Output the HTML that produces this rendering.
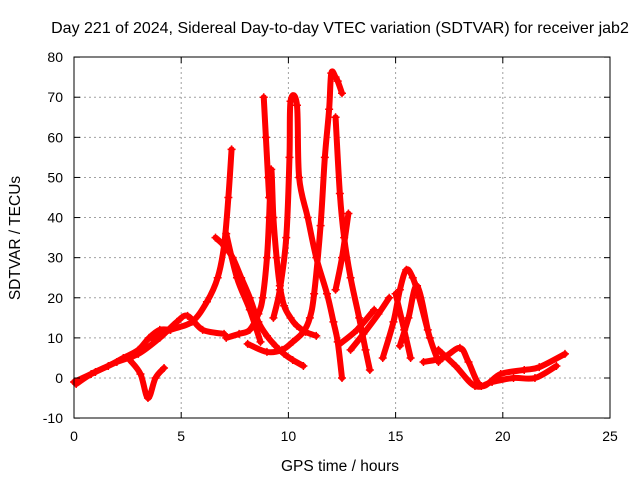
<!DOCTYPE html>
<html><head><meta charset="utf-8"><style>
body{margin:0;background:#fff}
svg{display:block;font-family:"Liberation Sans",sans-serif}
</style></head><body>
<svg id="chart" width="640" height="480">
<text x="340" y="33" text-anchor="middle" font-size="16">Day 221 of 2024, Sidereal Day-to-day VTEC variation (SDTVAR) for receiver jab2</text>
<text x="340" y="471" text-anchor="middle" font-size="15.5">GPS time / hours</text>
<text transform="translate(20,238) rotate(-90)" text-anchor="middle" font-size="15.5">SDTVAR / TECUs</text>
<g id="grid"></g><g id="marks"></g>
<rect x="74" y="57" width="536" height="361" fill="none" stroke="#000" stroke-width="1"/>
<g id="ticks"></g>
</svg>
<script>
const xTicks=[0,5,10,15,20,25];
const yTicks=[-10,0,10,20,30,40,50,60,70,80];
const arcA=[[0,-1],[1,1.5],[2,4],[3,6],[4,10],[4.8,14],[5.3,15.5],[6,12],[7,11]];
const arcB=[[0.1,-1.5],[0.8,1],[1.6,3],[2.3,5],[3,7],[3.5,10],[4,12],[4.5,12]];
const arcC=[[3.6,10],[4.5,12],[5.5,14],[6.2,19],[6.7,25],[7.0,33],[7.2,45],[7.35,57]];
const arcD=[[6.6,35],[7,33],[7.4,30],[7.8,25],[8.2,20],[8.6,14],[9,10.5],[9.4,8],[9.8,6],[10.2,4.5],[10.7,3]];
const arcE=[[7.1,36],[7.6,25],[8.2,17],[8.7,9]];
const arcF=[[7.1,10],[7.7,11],[8.2,12],[8.6,16],[8.8,20],[9.0,30],[9.1,40],[9.2,52],[9.3,40],[9.45,30],[9.6,23],[9.8,18],[10.1,15],[10.4,13],[10.8,11.5],[11.3,10.5]];
const arcG=[[8.85,70],[8.95,60],[9.05,50],[9.1,45]];
const arcH=[[9.3,15],[9.6,22],[9.9,35],[10.05,55],[10.1,69],[10.4,68],[10.5,50],[10.9,40],[11.3,30],[11.8,21],[12.1,14],[12.3,9],[12.5,0]];
const arcI=[[8.1,8.5],[9,6.5],[9.7,7],[10.2,9],[10.7,11.5],[11.0,15],[11.2,21],[11.5,38],[11.7,55],[11.9,67],[12.0,76],[12.2,75],[12.3,74],[12.5,71]];
const arcJ=[[12.2,65],[12.4,46],[12.6,35],[12.9,25],[13.3,15],[13.6,7],[13.8,2]];
const arcK=[[12.2,22],[12.5,30],[12.8,41]];
const arcL=[[12.9,7],[13.5,11],[14.2,16],[14.7,20]];
const arcM=[[12.4,8.5],[13.2,12],[14,17]];
const arcN=[[14.4,5],[14.9,14],[15.2,22],[15.5,27],[15.8,25],[16.1,20],[16.6,10],[17,4]];
const arcO=[[15,21],[15.4,12],[15.7,5]];
const arcP=[[15.2,8],[15.6,15],[16,23],[16.5,12]];
const arcQ=[[16.3,4],[17.2,5],[18,7.5],[18.4,4],[19,-2],[19.9,1],[21,2],[21.7,2.7],[22.9,6]];
const arcR=[[17,7],[17.8,3],[18.7,-2],[19.5,-1],[20.5,0],[21.5,0],[22.5,3]];
const arcS=[[2.6,4.5],[3.1,1],[3.45,-5],[3.8,0],[4.2,2.5]];
const series=[arcA,arcB,arcC,arcD,arcE,arcF,arcG,arcH,arcI,arcJ,arcK,arcL,arcM,arcN,arcO,arcP,arcQ,arcR,arcS];
const X=t=>74+t*536/25, Y=v=>378-v*361/90;
const ns="http://www.w3.org/2000/svg";
const grid=document.getElementById('grid'),ticks=document.getElementById('ticks'),marks=document.getElementById('marks');
function mk(tag,attrs,parent){const e=document.createElementNS(ns,tag);for(const k in attrs)e.setAttribute(k,attrs[k]);parent.appendChild(e);return e;}
xTicks.forEach(t=>{const x=X(t);
 if(t>0&&t<25){const g=mk('line',{x1:x,x2:x,y1:57,y2:418,stroke:'#a0a0a0','stroke-dasharray':'2,3'},grid);
 }
 mk('line',{x1:x,x2:x,y1:418,y2:412,stroke:'#000'},ticks);mk('line',{x1:x,x2:x,y1:57,y2:63,stroke:'#000'},ticks);
 const l=mk('text',{x:x,y:441,'text-anchor':'middle','font-size':14},ticks);l.textContent=t;
 });
yTicks.forEach(v=>{const y=Y(v);
 if(v>-10&&v<80){const g=mk('line',{x1:74,x2:610,y1:y,y2:y,stroke:'#a0a0a0','stroke-dasharray':'2,3'},grid);
 }
 mk('line',{x1:74,x2:80,y1:y,y2:y,stroke:'#000'},ticks);mk('line',{x1:610,x2:604,y1:y,y2:y,stroke:'#000'},ticks);
 const l=mk('text',{x:63,y:y+5,'text-anchor':'end','font-size':14},ticks);l.textContent=v;
 });
function smooth(pts){
 let d=`M${pts[0][0]},${pts[0][1]}`;
 for(let i=0;i<pts.length-1;i++){
  const p0=pts[Math.max(0,i-1)],p1=pts[i],p2=pts[i+1],p3=pts[Math.min(pts.length-1,i+2)];
  const c1x=p1[0]+(p2[0]-p0[0])/6,c1y=p1[1]+(p2[1]-p0[1])/6;
  const c2x=p2[0]-(p3[0]-p1[0])/6,c2y=p2[1]-(p3[1]-p1[1])/6;
  d+=`C${c1x},${c1y} ${c2x},${c2y} ${p2[0]},${p2[1]}`;
 }
 return d;
}
series.forEach(s=>{
 const pts=s.map(d=>[X(d[0]),Y(d[1])]);
 const p=mk('path',{d:smooth(pts),fill:'none',stroke:'#ff0000','stroke-width':6,'stroke-linejoin':'round','stroke-linecap':'round'},marks);
 
 
 pts.forEach(([x,y])=>{
  const m=mk('path',{d:`M${x-4},${y}H${x+4}M${x},${y-4}V${y+4}`,stroke:'#ff0000','stroke-width':1.5},marks);
  
  });
});
</script>
</body></html>
